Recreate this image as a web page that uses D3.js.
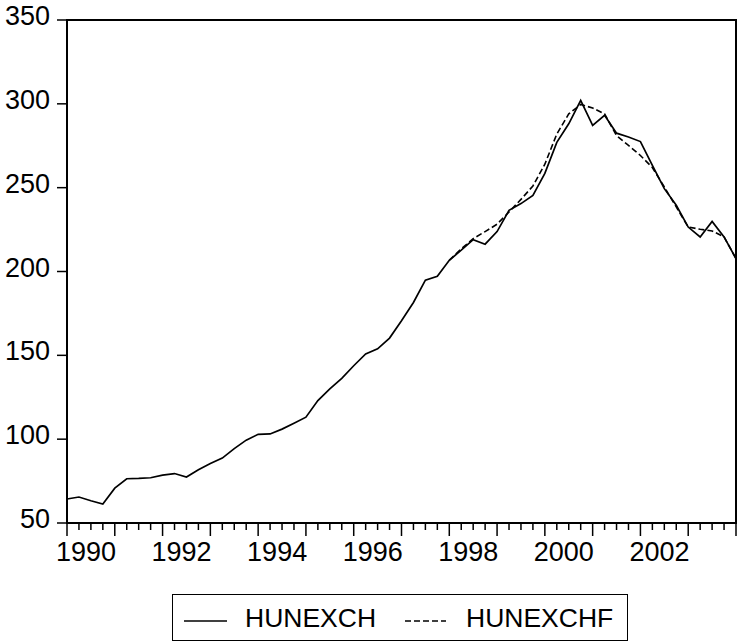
<!DOCTYPE html>
<html>
<head>
<meta charset="utf-8">
<script src="https://cdn.jsdelivr.net/npm/d3@7"></script>
<style>
  body { margin: 0; background: #fff; }
  svg text { font-family: "Liberation Sans", Arial, sans-serif; fill: #000; }
</style>
</head>
<body>
<div id="chart"></div>
<script>
// quarterly data, 1990Q1 .. 2004Q1
var startYear = 1990;
var hunexch = [64.3, 65.5, 63.3, 61.3, 70.8, 76.4, 76.6, 77.0, 78.6, 79.5,
  77.4, 81.7, 85.5, 88.7, 94.4, 99.4, 102.9, 103.1, 106.0, 109.5,
  113.1, 123.0, 130.0, 136.3, 143.8, 150.8, 153.9, 160.3, 170.6, 181.5,
  194.8, 197.2, 206.7, 212.7, 219.0, 216.3, 223.8, 236.5, 240.5, 245.4,
  258.5, 277.0, 288.1, 302.0, 287.2, 293.2, 282.5, 280.2, 277.5, 263.3,
  249.4, 239.5, 226.5, 220.6, 229.9, 220.6, 207.7];
// forecast starts 1998Q1
var hunexchf = [null, null, null, null, null, null, null, null, null, null,
  null, null, null, null, null, null, null, null, null, null,
  null, null, null, null, null, null, null, null, null, null,
  null, null, 206.7, 213.5, 219.6, 223.8, 228.2, 235.5, 243.0, 251.0,
  264.0, 282.0, 294.0, 299.6, 297.5, 294.0, 281.0, 275.2, 269.2, 262.0,
  250.4, 238.5, 226.5, 225.2, 224.2, 220.6, 207.7];
var yTicks = [50, 100, 150, 200, 250, 300, 350];
var xLabelYears = [1990, 1992, 1994, 1996, 1998, 2000, 2002];
var seriesNames = ["HUNEXCH", "HUNEXCHF"];

var svgWidth = 739, svgHeight = 642;
var plot = { left: 67, right: 736, top: 20, bottom: 523 };

var svg = d3.select("#chart").append("svg")
  .attr("width", svgWidth)
  .attr("height", svgHeight);

var xScale = d3.scaleLinear()
  .domain([0, hunexch.length - 1])
  .range([plot.left, plot.right]);

var yScale = d3.scaleLinear()
  .domain([50, 350])
  .range([plot.bottom, plot.top]);

// y axis ticks + labels
var yAxis = svg.append("g");
yAxis.selectAll("line")
  .data(yTicks)
  .enter()
  .append("line")
  .attr("x1", plot.left - 10)
  .attr("x2", plot.left)
  .attr("y1", d => yScale(d))
  .attr("y2", d => yScale(d))
  .attr("stroke", "#000")
  .attr("stroke-width", 1.5);
yAxis.selectAll("text")
  .data(yTicks)
  .enter()
  .append("text")
  .attr("x", plot.left - 17)
  .attr("y", d => yScale(d) + 5)
  .attr("text-anchor", "end")
  .style("font-size", "27px")
  .text(d => d);

// x axis quarter ticks
var quarters = d3.range(hunexch.length);
svg.append("g").selectAll("line")
  .data(quarters)
  .enter()
  .append("line")
  .attr("x1", d => xScale(d))
  .attr("x2", d => xScale(d))
  .attr("y1", plot.bottom)
  .attr("y2", d => plot.bottom + (d % 4 === 0 ? 13 : 7))
  .attr("stroke", "#000")
  .attr("stroke-width", 1.5);

svg.append("g").selectAll("text")
  .data(xLabelYears)
  .enter()
  .append("text")
  .attr("x", d => xScale((d - startYear) * 4) + 19)
  .attr("y", 561)
  .attr("text-anchor", "middle")
  .style("font-size", "27px")
  .text(d => d);

// frame
svg.append("rect")
  .attr("x", plot.left)
  .attr("y", plot.top)
  .attr("width", plot.right - plot.left)
  .attr("height", plot.bottom - plot.top)
  .attr("fill", "none")
  .attr("stroke", "#000")
  .attr("stroke-width", 2);

// lines
var line = d3.line()
  .defined(d => d != null)
  .x((d, i) => xScale(i))
  .y(d => yScale(d));

svg.append("path")
  .datum(hunexchf)
  .attr("d", line)
  .attr("fill", "none")
  .attr("stroke", "#000")
  .attr("stroke-width", 1.6)
  .attr("stroke-dasharray", "6,3");

svg.append("path")
  .datum(hunexch)
  .attr("d", line)
  .attr("fill", "none")
  .attr("stroke", "#000")
  .attr("stroke-width", 1.7);

// legend
var legend = svg.append("g");
legend.append("rect")
  .attr("x", 172.5)
  .attr("y", 594.5)
  .attr("width", 455)
  .attr("height", 46)
  .attr("fill", "none")
  .attr("stroke", "#000")
  .attr("stroke-width", 1);

legend.append("line")
  .attr("x1", 184).attr("x2", 227)
  .attr("y1", 621).attr("y2", 621)
  .attr("stroke", "#000")
  .attr("stroke-width", 1.5);
legend.append("text")
  .attr("x", 245)
  .attr("y", 627)
  .style("font-size", "26.5px")
  .text(seriesNames[0]);

legend.append("line")
  .attr("x1", 405).attr("x2", 446)
  .attr("y1", 621).attr("y2", 621)
  .attr("stroke", "#000")
  .attr("stroke-width", 1.5)
  .attr("stroke-dasharray", "6,3");
legend.append("text")
  .attr("x", 466)
  .attr("y", 627)
  .style("font-size", "26.5px")
  .text(seriesNames[1]);
</script>
</body>
</html>
